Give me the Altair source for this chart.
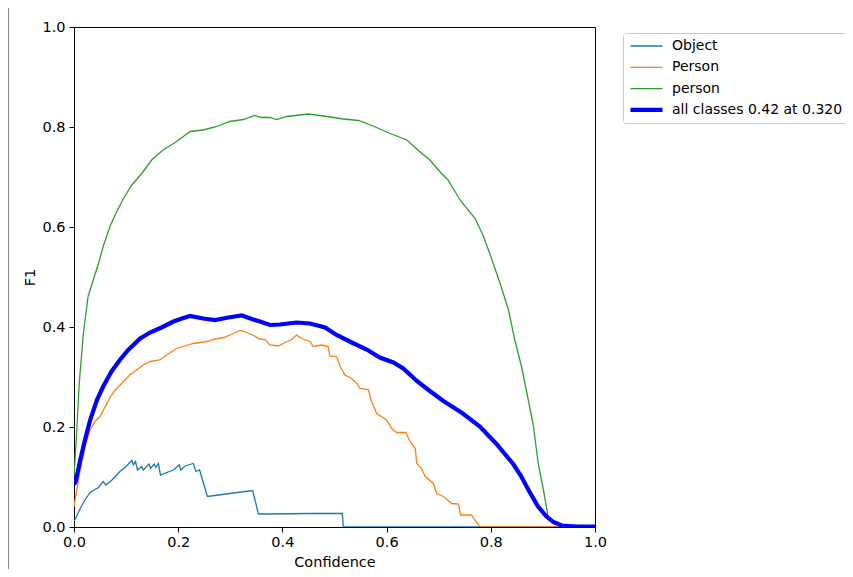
import altair as alt
import pandas as pd

classes = ["Object", "Person", "person", "all classes 0.42 at 0.320"]
colors = ["#1f77b4", "#ff7f0e", "#2ca02c", "#0000ff"]
widths = [1.3, 1.3, 1.3, 4.2]
ticks = [0.0, 0.2, 0.4, 0.6, 0.8, 1.0]

object_conf = [0.0, 0.003, 0.012, 0.021, 0.031, 0.040, 0.047, 0.056, 0.061, 0.072, 0.088,
               0.098, 0.111, 0.114, 0.118, 0.122, 0.130, 0.133, 0.144, 0.147, 0.154, 0.157,
               0.162, 0.166, 0.178, 0.191, 0.202, 0.205, 0.213, 0.219, 0.229, 0.234, 0.241,
               0.256, 0.299, 0.343, 0.354, 0.376, 0.45, 0.515, 0.517, 0.6, 0.8, 1.0]
object_f1 = [0.012, 0.017, 0.037, 0.054, 0.069, 0.075, 0.079, 0.091, 0.084, 0.093, 0.111,
             0.119, 0.133, 0.124, 0.131, 0.114, 0.121, 0.114, 0.126, 0.117, 0.126, 0.119,
             0.127, 0.104, 0.109, 0.114, 0.124, 0.114, 0.122, 0.124, 0.127, 0.111, 0.114,
             0.061, 0.067, 0.073, 0.026, 0.026, 0.027, 0.027, 0.0, 0.0, 0.0, 0.0]

person_up_conf = [0.0, 0.003, 0.012, 0.021, 0.031, 0.040, 0.050, 0.060, 0.072, 0.082, 0.095,
                  0.107, 0.120, 0.133, 0.146, 0.165, 0.178, 0.197, 0.210, 0.229, 0.255, 0.267,
                  0.287, 0.306, 0.319, 0.331, 0.345, 0.357, 0.367, 0.376, 0.392, 0.405, 0.418,
                  0.427, 0.437, 0.453, 0.459, 0.475, 0.488, 0.491, 0.504, 0.511, 0.520, 0.533,
                  0.543, 0.549, 0.565, 0.571, 0.581, 0.600, 0.610, 0.619, 0.637, 0.645, 0.655,
                  0.658, 0.667, 0.674, 0.690, 0.696, 0.709, 0.725, 0.738, 0.742, 0.763, 0.779,
                  0.8, 1.0]
person_up_f1 = [0.04, 0.06, 0.114, 0.161, 0.194, 0.211, 0.221, 0.241, 0.264, 0.277, 0.291,
                0.304, 0.314, 0.324, 0.331, 0.334, 0.344, 0.357, 0.361, 0.367, 0.371, 0.375,
                0.379, 0.387, 0.393, 0.389, 0.383, 0.376, 0.375, 0.364, 0.362, 0.369, 0.375,
                0.384, 0.377, 0.371, 0.361, 0.364, 0.361, 0.342, 0.341, 0.321, 0.304, 0.297,
                0.287, 0.277, 0.275, 0.251, 0.227, 0.214, 0.197, 0.189, 0.189, 0.171, 0.157,
                0.127, 0.117, 0.101, 0.087, 0.067, 0.061, 0.047, 0.046, 0.024, 0.024, 0.0,
                0.0, 0.0]

person_conf = [0.0, 0.005, 0.010, 0.018, 0.027, 0.037, 0.047, 0.056, 0.069, 0.082, 0.095,
               0.111, 0.130, 0.149, 0.171, 0.197, 0.223, 0.248, 0.274, 0.299, 0.325, 0.347,
               0.360, 0.376, 0.389, 0.408, 0.450, 0.485, 0.517, 0.546, 0.574, 0.607, 0.639,
               0.661, 0.683, 0.702, 0.718, 0.741, 0.770, 0.786, 0.798, 0.818, 0.834, 0.846,
               0.859, 0.872, 0.882, 0.891, 0.901, 0.910, 0.920, 0.935, 0.95, 1.0]
person_f1 = [0.10, 0.187, 0.287, 0.387, 0.461, 0.494, 0.527, 0.561, 0.601, 0.631, 0.657,
             0.684, 0.707, 0.734, 0.754, 0.771, 0.791, 0.794, 0.801, 0.811, 0.815, 0.823,
             0.819, 0.819, 0.815, 0.821, 0.826, 0.821, 0.816, 0.813, 0.802, 0.787, 0.774,
             0.753, 0.734, 0.711, 0.694, 0.654, 0.617, 0.581, 0.547, 0.487, 0.434, 0.374,
             0.321, 0.254, 0.201, 0.127, 0.074, 0.021, 0.011, 0.003, 0.001, 0.0]

all_conf = [0.0, 0.003, 0.012, 0.021, 0.031, 0.044, 0.056, 0.072, 0.088, 0.104, 0.127,
            0.146, 0.168, 0.191, 0.207, 0.223, 0.248, 0.271, 0.296, 0.322, 0.344, 0.357,
            0.376, 0.395, 0.427, 0.453, 0.482, 0.504, 0.533, 0.562, 0.587, 0.613, 0.632,
            0.658, 0.683, 0.709, 0.745, 0.779, 0.811, 0.843, 0.858, 0.874, 0.890, 0.906,
            0.920, 0.936, 0.965, 1.0]
all_f1 = [0.085, 0.09, 0.134, 0.174, 0.214, 0.254, 0.281, 0.311, 0.334, 0.354, 0.377,
          0.389, 0.399, 0.411, 0.417, 0.422, 0.417, 0.414, 0.419, 0.423, 0.415, 0.411,
          0.404, 0.405, 0.409, 0.407, 0.399, 0.384, 0.369, 0.355, 0.339, 0.329, 0.317,
          0.292, 0.272, 0.252, 0.228, 0.201, 0.166, 0.126, 0.102, 0.071, 0.042, 0.022,
          0.010, 0.003, 0.001, 0.001]

series = [(classes[0], object_conf, object_f1),
          (classes[1], person_up_conf, person_up_f1),
          (classes[2], person_conf, person_f1),
          (classes[3], all_conf, all_f1)]
rows = []
for name, cs, fs in series:
    for i, (c, f) in enumerate(zip(cs, fs)):
        rows.append({"cls": name, "conf": c, "f1": f, "i": i})
df = pd.DataFrame(rows)

font = "DejaVu Sans"
fs_txt = 14.5

x_enc = alt.X("conf:Q", scale=alt.Scale(domain=[0, 1], nice=False, zero=False),
              axis=alt.Axis(values=ticks, format=".1f", title="Confidence", grid=False,
                            titleX=260.5, titleY=35, titleBaseline="middle",
                            titleAlign="center", labelPadding=3, labelFlush=False))
y_enc = alt.Y("f1:Q", scale=alt.Scale(domain=[0, 1], nice=False, zero=False),
              axis=alt.Axis(values=ticks, format=".1f", title="F1", grid=False,
                            titleX=-44, titleY=250, titleAngle=270, titleBaseline="middle",
                            titleAlign="center", labelPadding=4, labelFlush=False))
color_enc = alt.Color("cls:N", scale=alt.Scale(domain=classes, range=colors), title=None,
                      legend=alt.Legend(orient="none", legendX=549, legendY=6,
                                        symbolType="stroke", symbolSize=1024,
                                        labelFont=font, labelFontSize=14,
                                        labelColor="black", labelOffset=7, labelLimit=400,
                                        padding=5, rowPadding=5.3, clipHeight=16,
                                        strokeColor="#cccccc", fillColor="white",
                                        cornerRadius=3))
sw_enc = alt.StrokeWidth("cls:O", scale=alt.Scale(type="ordinal", domain=classes, range=widths),
                         title=None)

base = alt.Chart(df)
thin = base.transform_filter(alt.datum.cls != classes[3]).mark_line(clip=True).encode(
    x=x_enc, y=y_enc, color=color_enc, strokeWidth=sw_enc, order="i:Q")
thick = base.transform_filter(alt.datum.cls == classes[3]).mark_line(clip=True).encode(
    x=x_enc, y=y_enc, color=color_enc, strokeWidth=sw_enc, order="i:Q")

edge = alt.Chart(pd.DataFrame({"a": [0]})).mark_rule(color="#888888", strokeWidth=1).encode(
    x=alt.value(-65.5), y=alt.value(-19), y2=alt.value(542))

chart = alt.layer(edge, thin, thick).properties(
    width=521, height=500,
    autosize=alt.AutoSizeParams(type="none"),
    padding={"left": 66, "top": 19, "right": 250, "bottom": 42},
).configure_view(stroke="black", strokeWidth=1).configure_axis(
    domainColor="black", tickColor="black", labelColor="black", titleColor="black",
    labelFont=font, titleFont=font, labelFontSize=fs_txt, titleFontSize=fs_txt,
    titleFontWeight="normal", tickSize=5, domainWidth=1, tickWidth=1,
)

chart.save("out.html", embed_options={"renderer": "svg", "actions": False})
